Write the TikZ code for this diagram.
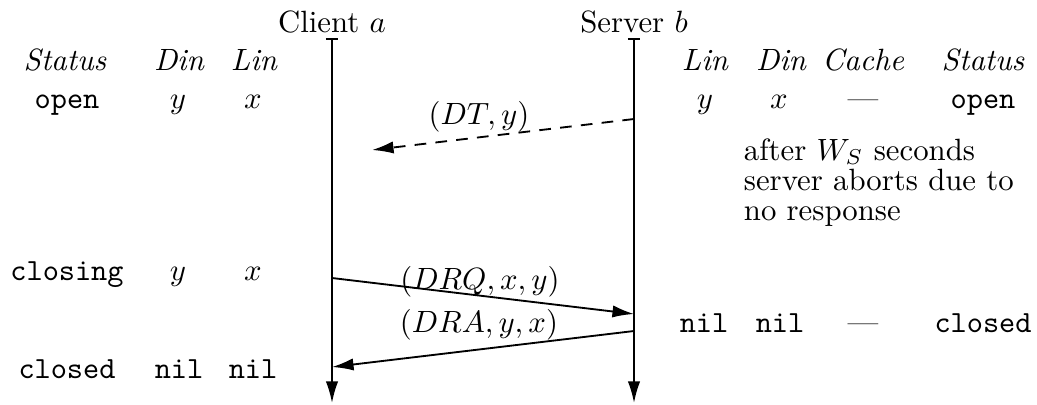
\documentclass[tikz,border=0pt]{standalone}
\usetikzlibrary{arrows.meta}
\begin{document}
\begin{tikzpicture}[x=0.325pt,y=-0.325pt,
  line width=0.6pt,
  txt/.style={inner sep=0pt,anchor=base},
  hd/.style={txt,font=\itshape},
  tt/.style={txt,font=\ttfamily},
  life/.style={{Bar[width=4pt]}-{Latex[length=7pt,width=4pt]}},
  msg/.style={-{Latex[length=7pt,width=4pt]}},
  lbl/.style={txt}]
\useasboundingbox (0,0) rectangle (1037,404);

% lifelines
\node[txt] (cname) at (332,32) {Client $a$};
\node[txt] (sname) at (634,32) {Server $b$};
\coordinate (ctop) at (332,38);
\coordinate (cbot) at (332,403);
\coordinate (stop) at (634,38);
\coordinate (sbot) at (634,403);
\draw[life] (ctop) -- (cbot);
\draw[life] (stop) -- (sbot);

% client state table
\node[hd] (cst) at (65,70) {Status};
\node[hd] (cdin) at (179,70) {Din};
\node[hd] (clin) at (254,70) {Lin};
\node[tt] (c1s) at (67,108) {open};
\node[txt] (c1d) at (178,108) {$y$};
\node[txt] (c1l) at (253,108) {$x$};
\node[tt] (c2s) at (67,280) {closing};
\node[txt] (c2d) at (178,280) {$y$};
\node[txt] (c2l) at (253,280) {$x$};
\node[tt] (c3s) at (67,378) {closed};
\node[tt] (c3d) at (179,378) {nil};
\node[tt] (c3l) at (253,378) {nil};

% server state table
\node[hd] (slin) at (705,70) {Lin};
\node[hd] (sdin) at (781,70) {Din};
\node[hd] (scache) at (863,70) {Cache};
\node[hd] (sst) at (983,70) {Status};
\node[txt] (s1l) at (705,108) {$y$};
\node[txt] (s1d) at (779,108) {$x$};
\node[txt] (s1c) at (863,108) {---};
\node[tt] (s1s) at (983,108) {open};
\node[tt] (s2l) at (704,332) {nil};
\node[tt] (s2d) at (780,332) {nil};
\node[txt] (s2c) at (863,332) {---};
\node[tt] (s2s) at (983,332) {closed};

% timeout remark (anchored on the baseline of its last line)
\node[inner sep=0pt,anchor=base west,align=left,
      font={\fontsize{10pt}{9.75pt}\selectfont}] (note) at (743,220)
  {after $W_S$ seconds\\server aborts due to\\no response};

% messages
\coordinate (dts) at (634,119);
\coordinate (dte) at (372,150);
\coordinate (drqs) at (332,278);
\coordinate (drqe) at (634,314);
\coordinate (dras) at (634,331);
\coordinate (drae) at (332,367);
\draw[msg,dash pattern=on 3.8pt off 3pt] (dts) -- (dte);
\draw[msg] (drqs) -- (drqe);
\draw[msg] (dras) -- (drae);
\node[lbl] (ldt) at (479,124) {$(DT,y)$};
\node[lbl] (ldrq) at (480,289) {$(DRQ,x,y)$};
\node[lbl] (ldra) at (479,332) {$(DRA,y,x)$};
\end{tikzpicture}
\end{document}
